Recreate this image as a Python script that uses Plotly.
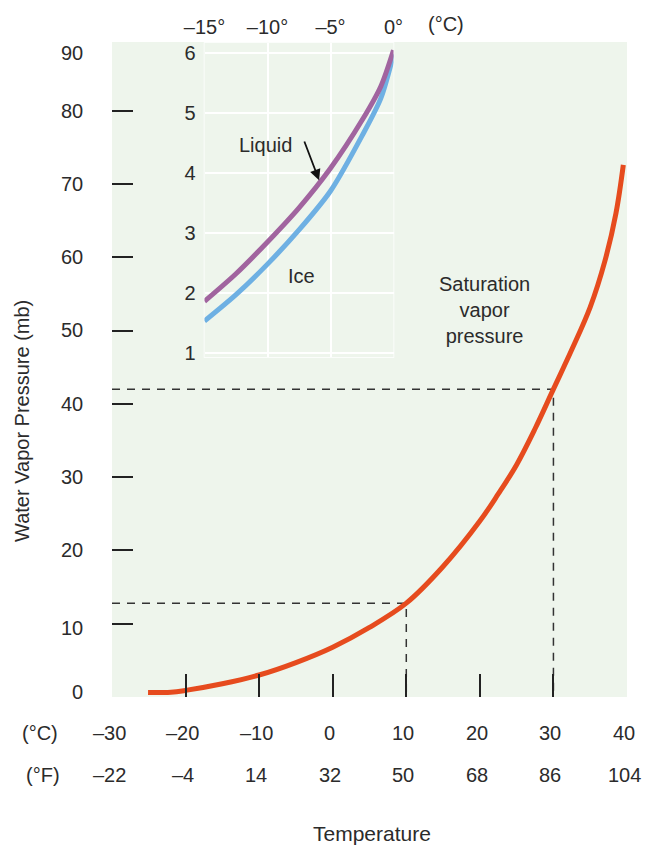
import plotly.graph_objects as go

W, H = 653, 846

# ---------------- data ----------------
temp_c = [-25.1, -22, -20, -15, -10, -5, 0, 5, 10, 15, 20, 22.5, 25, 27.5, 30, 32.5, 35, 37, 38.5, 39.5]
svp_mb = [0.6, 0.65, 0.9, 1.8, 3.0, 4.7, 6.8, 9.5, 12.8, 17.8, 24.0, 27.7, 31.7, 36.6, 42.0, 47.4, 53.2, 59.5, 66.0, 72.6]

inset_t = [-15, -12.5, -10, -7.5, -5, -2.5, -1, 0]
liquid_mb = [1.86, 2.32, 2.85, 3.42, 4.08, 4.88, 5.45, 6.05]
ice_mb = [1.53, 1.97, 2.48, 3.05, 3.70, 4.62, 5.25, 5.98]

dash_t = [10, 30]
dash_p = [12.8, 42.0]

c_ticks = [-30, -20, -10, 0, 10, 20, 30, 40]
c_labels = ["–30", "–20", "–10", "0", "10", "20", "30", "40"]
f_labels = ["–22", "–4", "14", "32", "50", "68", "86", "104"]
y_labels = [0, 10, 20, 30, 40, 50, 60, 70, 80, 90]
y_tickmarks = [10, 20, 30, 40, 50, 60, 70, 80]
x_tickmarks = [-20, -10, 0, 10, 20, 30]

inset_xticks = [-15, -10, -5, 0]
inset_xlabels = ["–15°", "–10°", "–5°", "0°"]
inset_yticks = [1, 2, 3, 4, 5, 6]

# ---------------- styling ----------------
FONT = "Liberation Sans, Arial, sans-serif"
TXT = "#2b2b2b"
FS = 20
GREEN = "#eef5ec"
LAV = "#e4dded"

def px(xp):
    return xp / W

def py(yp):
    return 1 - yp / H

def label(x, y, text, size=FS, **kw):
    d = dict(x=px(x), y=py(y), xref="paper", yref="paper", text=text, showarrow=False,
             xanchor="center", yanchor="middle", font=dict(family=FONT, size=size, color=TXT))
    d.update(kw)
    return d

fig = go.Figure()

# dashed reference lines
for t, p in zip(dash_t, dash_p):
    fig.add_trace(go.Scatter(
        x=[-30, t, t], y=[p, p, 0], mode="lines",
        line=dict(color="#333333", width=1.5, dash="8px,7px"),
        hoverinfo="skip", showlegend=False, xaxis="x", yaxis="y"))

# saturation vapor pressure curve
fig.add_trace(go.Scatter(
    x=temp_c, y=svp_mb, mode="lines",
    line=dict(color="#e64b1e", width=5, shape="spline", smoothing=1.0),
    showlegend=False, xaxis="x", yaxis="y"))

# inset curves
fig.add_trace(go.Scatter(
    x=inset_t, y=ice_mb, mode="lines",
    line=dict(color="#6eb0e3", width=5, shape="spline", smoothing=0.8),
    showlegend=False, xaxis="x2", yaxis="y2"))
fig.add_trace(go.Scatter(
    x=inset_t, y=liquid_mb, mode="lines",
    line=dict(color="#a1649f", width=5, shape="spline", smoothing=0.8),
    showlegend=False, xaxis="x2", yaxis="y2"))

annotations = []

# y labels of main axis
yshift = {90: -11, 10: -4, 0: 5}
for v in y_labels:
    annotations.append(dict(
        x=px(85), xref="paper", y=min(v, 89.3), yref="y", text=str(v),
        showarrow=False, xanchor="right", yanchor="middle",
        yshift=yshift.get(v, 0), font=dict(family=FONT, size=FS, color=TXT)))

# x labels (°C and °F rows)
for t, cl, fl in zip(c_ticks, c_labels, f_labels):
    annotations.append(dict(
        x=t, xref="x", y=py(733), yref="paper", text=cl, showarrow=False,
        xanchor="center", yanchor="middle", xshift=-3,
        font=dict(family=FONT, size=FS, color=TXT)))
    annotations.append(dict(
        x=t, xref="x", y=py(775), yref="paper", text=fl, showarrow=False,
        xanchor="center", yanchor="middle", xshift=-3,
        font=dict(family=FONT, size=FS, color=TXT)))

annotations += [
    label(40, 733, "(°C)"),
    label(43, 775, "(°F)"),
    label(372, 833, "Temperature", size=21),
    label(22, 421, "Water Vapor Pressure (mb)", textangle=-90),
    label(484, 310, "Saturation<br>vapor<br>pressure", align="center"),
    label(446, 24, "(°C)"),
    label(265, 145, "Liquid"),
    label(301, 276, "Ice"),
    dict(x=-5.85, y=3.85, xref="x2", yref="y2", text="", showarrow=True,
         ax=-16, ay=-42, arrowhead=2, arrowsize=1.2, arrowwidth=1.8, arrowcolor="#111111",
         standoff=2),
]

shapes = [
    dict(type="rect", xref="x2 domain", yref="y2 domain", x0=0, x1=1, y0=0, y1=1,
         fillcolor=LAV, line=dict(color="white", width=1.5), layer="below"),
]

fig.update_layout(
    width=W, height=H,
    margin=dict(l=0, r=0, t=0, b=0, pad=0, autoexpand=False),
    paper_bgcolor="white",
    plot_bgcolor=GREEN,
    showlegend=False,
    font=dict(family=FONT, size=FS, color=TXT),
    xaxis=dict(domain=[px(112), px(627)], range=[-30, 40], anchor="y", automargin=False,
               tickvals=x_tickmarks, ticks="inside", ticklen=23, tickwidth=1.5,
               tickcolor="#222222", showticklabels=False, showgrid=False,
               zeroline=False, showline=False, fixedrange=True),
    yaxis=dict(domain=[py(697), py(42)], range=[0, 89.36], anchor="x", automargin=False,
               tickvals=y_tickmarks, ticks="inside", ticklen=21, tickwidth=1.5,
               tickcolor="#222222", showticklabels=False, showgrid=False,
               zeroline=False, showline=False, fixedrange=True),
    xaxis2=dict(domain=[px(204.5), px(393.5)], range=[-15.0, 0.0], anchor="y2",
                automargin=False,
                side="top", tickvals=inset_xticks, ticktext=inset_xlabels,
                ticks="", ticklabelstandoff=4, showgrid=True, gridcolor="white",
                gridwidth=2, zeroline=False, showline=False,
                tickfont=dict(family=FONT, size=FS, color=TXT), fixedrange=True),
    yaxis2=dict(domain=[py(357), py(43)], range=[0.93, 6.17], anchor="x2",
                automargin=False,
                tickvals=inset_yticks, ticks="", ticklabelstandoff=8,
                showgrid=True, gridcolor="white", gridwidth=2, zeroline=False,
                showline=False, tickfont=dict(family=FONT, size=FS, color=TXT),
                fixedrange=True),
    annotations=annotations,
    shapes=shapes,
)

fig.write_html("out.html", config={"displayModeBar": False},
               post_script="document.body.style.margin='0';document.body.style.padding='0';")
